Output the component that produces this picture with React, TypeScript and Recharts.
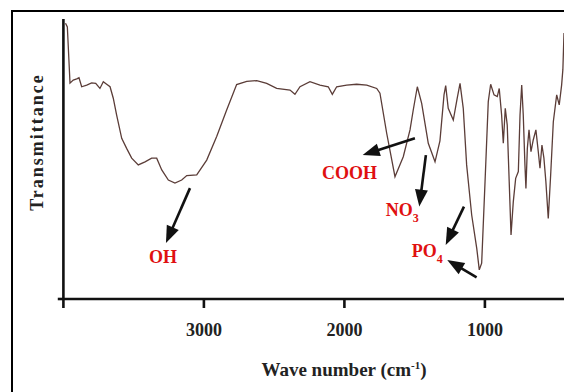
import React from 'react';
import { LineChart, Line, XAxis, YAxis, ReferenceLine, ReferenceDot } from 'recharts';

// FTIR spectrum (wavenumber in cm-1, transmittance in arbitrary %)
const wavenumber = [
  3985, 3972, 3953, 3930, 3905, 3889, 3870, 3834, 3799, 3770, 3740, 3716, 3692, 3668, 3645, 3621,
  3585, 3550, 3514, 3467, 3419, 3372, 3336, 3300, 3253, 3206, 3158, 3122, 3051, 2980, 2909, 2838,
  2767, 2695, 2624, 2553, 2482, 2387, 2352, 2316, 2245, 2174, 2115, 2086, 2055, 1984, 1913, 1841,
  1770, 1747, 1699, 1640, 1581, 1533, 1510, 1481, 1450, 1403, 1355, 1320, 1291, 1279, 1261, 1225,
  1197, 1177, 1154, 1130, 1094, 1058, 1040, 1023, 999, 976, 959, 935, 912, 898, 881, 869,
  855, 841, 827, 814, 798, 781, 762, 750, 738, 727, 715, 708, 698, 686, 672, 656,
  637, 620, 608, 594, 580, 566, 549, 532, 513, 489, 471, 454, 445, 437,
];
const transmittance = [
  98.5, 97.2, 77.1, 78.2, 78.6, 79.0, 75.8, 76.4, 77.2, 77.0, 75.2, 77.6, 76.7, 75.8, 71.7, 65.7,
  57.4, 53.8, 50.3, 47.9, 49.0, 50.3, 50.3, 46.1, 42.5, 41.4, 42.5, 44.1, 44.3, 49.6, 58.0, 67.5,
  76.6, 77.7, 78.0, 77.0, 75.2, 74.6, 73.1, 75.8, 77.6, 76.4, 75.8, 73.1, 75.8, 76.4, 76.7, 76.4,
  75.2, 73.5, 59.2, 43.7, 50.8, 60.4, 67.5, 75.8, 69.9, 55.6, 49.0, 56.5, 72.9, 76.2, 68.1, 63.9,
  71.7, 77.0, 68.1, 47.9, 30.0, 18.1, 10.4, 12.8, 41.9, 70.5, 76.7, 72.9, 72.3, 75.2, 65.7, 55.6,
  68.1, 62.1, 41.9, 22.9, 34.7, 43.1, 45.5, 65.7, 76.4, 65.7, 47.9, 39.5, 53.8, 60.4, 52.6, 56.8,
  60.4, 52.6, 46.7, 55.0, 50.3, 41.9, 28.8, 44.3, 63.3, 72.9, 69.3, 76.4, 82.0, 95.0,
];
const xTicks = [4000, 3000, 2000, 1000];

// Annotation arrows (tail -> tip) and labels, in data coordinates
const arrowTailW = [3099, 1498, 1420, 1149, 1059];
const arrowTailT = [39.6, 57.4, 51.4, 33.0, 7.75];
const arrowTipW = [3270, 1870, 1467, 1279, 1268];
const arrowTipT = [20.0, 51.4, 33.0, 19.3, 13.9];
const labelMain = ['OH', 'COOH', 'NO', 'PO'];
const labelSub = ['', '', '3', '4'];
const labelW = [3391, 2160, 1705, 1521];
const labelT = [12.9, 42.9, 29.6, 15.1];

const data = wavenumber.map((w, i) => ({ w, t: transmittance[i] }));

const SERIF = '"Liberation Serif", "Times New Roman", "DejaVu Serif", serif';
const RED = '#e01010';

const Arrow = (props: any) => {
  const { x1, y1, x2, y2 } = props;
  const dx = x2 - x1;
  const dy = y2 - y1;
  const len = Math.sqrt(dx * dx + dy * dy) || 1;
  const ux = dx / len;
  const uy = dy / len;
  const hl = 17;
  const hw = 6.5;
  const bx = x2 - ux * hl;
  const by = y2 - uy * hl;
  const pts = `${x2},${y2} ${bx - uy * hw},${by + ux * hw} ${bx + uy * hw},${by - ux * hw}`;
  return (
    <g>
      <line x1={x1} y1={y1} x2={bx + ux * 2} y2={by + uy * 2} stroke="#111" strokeWidth={2.6} />
      <polygon points={pts} fill="#111" />
    </g>
  );
};

const makeLabel = (main: string, sub: string) => (props: any) => {
  const { cx, cy } = props;
  return (
    <text x={cx} y={cy} fill={RED} fontFamily={SERIF} fontWeight="bold" fontSize={18}>
      {main}
      {sub ? (
        <tspan dy={6} fontSize={12}>
          {sub}
        </tspan>
      ) : null}
    </text>
  );
};

export default function App() {
  return (
    <div style={{ position: 'absolute', left: 0, top: 0, width: 564, height: 392, background: '#fff', overflow: 'hidden' }}>
      <div
        style={{
          position: 'absolute',
          left: 11,
          top: 10,
          width: 600,
          height: 400,
          borderLeft: '2.5px solid #000',
          borderTop: '2.5px solid #000',
        }}
      />
      <div style={{ position: 'absolute', left: 0, top: 0 }}>
        <LineChart width={564} height={392} data={data} margin={{ top: 19, right: 0, bottom: 0, left: 13.4 }}>
          <XAxis
            type="number"
            dataKey="w"
            domain={[437, 4000]}
            reversed
            allowDataOverflow
            ticks={xTicks}
            interval={0}
            tickFormatter={(v: number) => (v === 4000 ? '' : String(v))}
            height={93}
            tickSize={9}
            tickMargin={15}
            axisLine={{ stroke: '#111', strokeWidth: 2.6 }}
            tickLine={{ stroke: '#111', strokeWidth: 2.6 }}
            tick={{ fill: '#222', fontSize: 18, fontWeight: 'bold', fontFamily: SERIF }}
            label={{
              content: () => (
                <text x={344} y={376} textAnchor="middle" fill="#222" fontFamily={SERIF} fontWeight="bold" fontSize={19}>
                  Wave number (cm
                  <tspan dy={-7} fontSize={11}>
                    -1
                  </tspan>
                  <tspan dy={7}>)</tspan>
                </text>
              ),
            }}
          />
          <YAxis
            type="number"
            domain={[0, 100]}
            width={50}
            tick={false}
            tickLine={false}
            axisLine={{ stroke: '#111', strokeWidth: 2.6 }}
            label={{
              content: () => (
                <text
                  x={43}
                  y={142}
                  transform="rotate(-90 43 142)"
                  textAnchor="middle"
                  fill="#222"
                  fontFamily={SERIF}
                  fontWeight="bold"
                  fontSize={18}
                  letterSpacing={2}
                >
                  Transmittance
                </text>
              ),
            }}
          />
          <ReferenceLine
            segment={[
              { x: 4040, y: 0 },
              { x: 4000, y: 0 },
            ]}
            stroke="#111"
            strokeWidth={2.6}
            ifOverflow="visible"
          />
          <Line
            type="linear"
            dataKey="t"
            stroke="#5b3d38"
            strokeWidth={1.3}
            dot={false}
            isAnimationActive={false}
          />
          {arrowTailW.map((w, i) => (
            <ReferenceLine
              key={'a' + i}
              segment={[
                { x: w, y: arrowTailT[i] },
                { x: arrowTipW[i], y: arrowTipT[i] },
              ]}
              ifOverflow="visible"
              shape={Arrow}
            />
          ))}
          {labelMain.map((m, i) => (
            <ReferenceDot
              key={'l' + i}
              x={labelW[i]}
              y={labelT[i]}
              r={0}
              ifOverflow="visible"
              shape={makeLabel(m, labelSub[i])}
            />
          ))}
        </LineChart>
      </div>
    </div>
  );
}
